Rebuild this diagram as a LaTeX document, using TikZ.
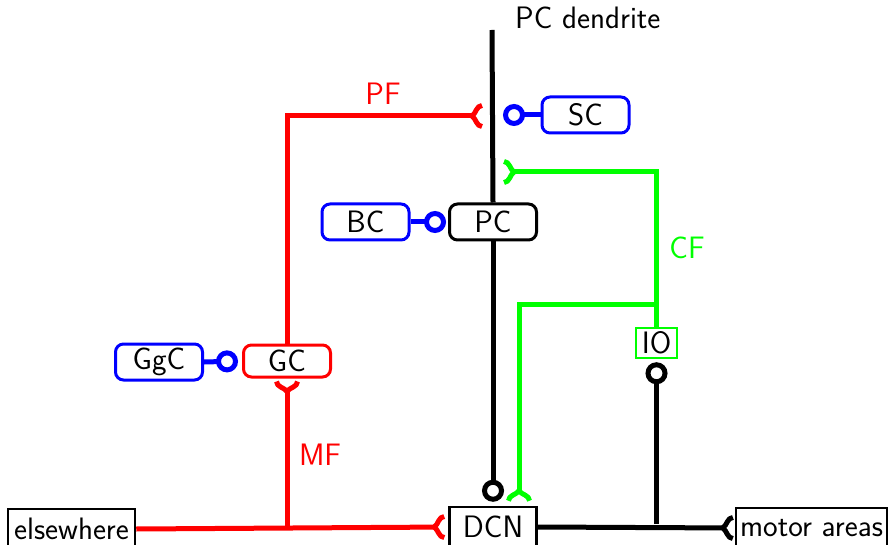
\documentclass[tikz,border=0pt]{standalone}
\usetikzlibrary{arrows.meta,calc}
\pgfdeclarearrow{
  name=Fork,
  parameters={\the\pgfarrowlength,\the\pgfarrowwidth},
  setup code={
    \pgfarrowssettipend{0pt}
    \pgfarrowssetbackend{-\pgfarrowlength}
    \pgfarrowssetlineend{-\pgfarrowlength}
    \pgfarrowssavethe\pgfarrowlength
    \pgfarrowssavethe\pgfarrowwidth
  },
  drawing code={
    \pgfsetdash{}{0pt}
    \pgfsetroundjoin
    \pgfpathmoveto{\pgfqpoint{0pt}{.5\pgfarrowwidth}}
    \pgfpathcurveto{\pgfqpoint{-.55\pgfarrowlength}{.5\pgfarrowwidth}}
                   {\pgfqpoint{-.6\pgfarrowlength}{.12\pgfarrowwidth}}
                   {\pgfqpoint{-\pgfarrowlength}{0pt}}
    \pgfpathcurveto{\pgfqpoint{-.6\pgfarrowlength}{-.12\pgfarrowwidth}}
                   {\pgfqpoint{-.55\pgfarrowlength}{-.5\pgfarrowwidth}}
                   {\pgfqpoint{0pt}{-.5\pgfarrowwidth}}
    \pgfusepathqstroke
  },
  defaults={length=10pt,width=21pt}
}
\begin{document}
\begin{tikzpicture}[x=1pt,y=-1pt,
  font=\sffamily\fontsize{31}{35}\selectfont,
  rbox/.style={draw,rounded corners=8pt,line width=3pt,minimum width=87pt,minimum height=36pt,fill=white,inner sep=0pt},
  sbox/.style={draw,line width=2.5pt,minimum height=40pt,inner sep=4pt,fill=white},
  wire/.style={line width=5pt},
  inh/.style={-{Circle[open,length=22pt,width=22pt,line width=5pt]}},
  exc/.style={-{Fork[line width=4pt]}}]
\useasboundingbox (0,0) rectangle (888,545);
\definecolor{rd}{RGB}{255,0,0}
\definecolor{gn}{RGB}{0,255,0}
\definecolor{bl}{RGB}{0,0,255}
% nodes
\node[rbox,draw=bl] (SC) at (585.5,115) {SC};
\node[rbox] (PC) at (493,222) {PC};
\node[rbox,draw=bl] (BC) at (365.5,222) {BC};
\node[rbox,draw=rd,minimum height=32pt] (GC) at (287,361) {GC};
\node[rbox,draw=bl] (GgC) at (159,362) {GgC};
\node[draw=gn,line width=2.5pt,minimum width=41pt,minimum height=30pt,inner sep=2pt] (IO) at (656.5,343) {IO};
\node[sbox,minimum width=87pt] (DCN) at (493,527) {DCN};
\node[sbox,minimum width=127pt] (else) at (71.5,529) {elsewhere};
\node[sbox,minimum width=149pt] (motor) at (811.5,528) {motor areas};
\node[anchor=base west,inner sep=0pt] (dend) at (515,29) {PC dendrite};
\node[text=rd] (PFl) at (383,94) {PF};
\node[text=gn] (CFl) at (687,248) {CF};
\node[text=rd] (MFl) at (320,455) {MF};
% coordinates
\coordinate (top) at (492,30);
\coordinate (scend) at (503,115);
\coordinate (pfend) at (482,116);
\coordinate (cfend) at (504,172);
\coordinate (cfbr) at (656.5,304);
\coordinate (cfdcn) at ($(DCN.north)+(26,0)$);
\coordinate (mfj) at (287,527);
\coordinate (ioj) at (656.5,524);
% connectors
\draw[wire] (top) -- (PC.north);
\draw[wire,inh,shorten >=4pt] (PC.south) -- (DCN.north);
\draw[wire,bl,inh] (SC.west) -- (scend);
\draw[wire,bl,inh,shorten >=2pt] (BC.east) -- (PC.west);
\draw[wire,bl,inh,shorten >=4pt] (GgC.east) -- (GC.west);
\draw[wire,rd,exc] (GC.north) |- (pfend);
\draw[wire,gn,exc] (IO.north) |- (cfend);
\draw[wire,gn,exc,shorten >=5pt] (cfbr) -| (cfdcn);
\draw[wire,rd,exc,shorten >=4pt] (else.east) -- (DCN.west);
\draw[wire,rd,exc,shorten >=3pt] (mfj) -- (GC.south);
\draw[wire,exc,shorten >=2pt] (DCN.east) -- (motor.west);
\draw[wire,inh,shorten >=3pt] (ioj) -- (IO.south);
\end{tikzpicture}
\end{document}
